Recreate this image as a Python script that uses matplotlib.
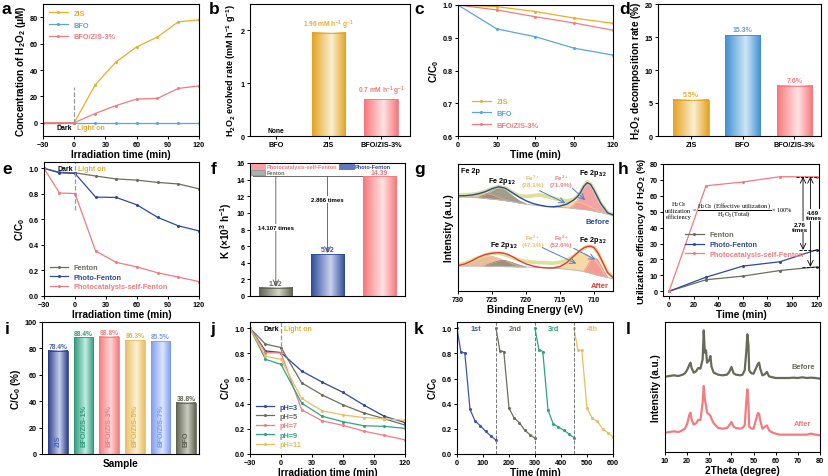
import numpy as np
import matplotlib
matplotlib.use("Agg")
import matplotlib.pyplot as plt
from matplotlib.colors import LinearSegmentedColormap
from matplotlib.patches import Patch

plt.rcParams['font.family'] = ['Liberation Sans', 'DejaVu Sans']
plt.rcParams['font.weight'] = 'bold'
plt.rcParams['axes.labelweight'] = 'bold'
plt.rcParams['mathtext.default'] = 'regular'

# ---------------- data ----------------
# (a) H2O2 production
a_time = [-30, -15, 0, 20, 40, 60, 80, 100, 120]
a_zis = [0, 0, 0, 28.5, 46, 57.5, 65, 76.5, 78]
a_bfo = [0, 0, 0, 0, 0, 0, 0, 0, 0]
a_comp = [0, 0, 0, 7, 13, 18, 18.5, 26, 28]
light_on = 0
# (b) H2O2 evolved rate
b_samples = ["BFO", "ZIS", "BFO/ZIS-3%"]
b_rates = [0.0, 1.96, 0.7]
b_labels = ["None", "1.96 mM h$^{-1}$ g$^{-1}$", "0.7 mM h$^{-1}$ g$^{-1}$"]
# (c) H2O2 decomposition
c_time = [0, 30, 60, 90, 120]
c_zis = [1.0, 0.995, 0.98, 0.96, 0.944]
c_bfo = [1.0, 0.927, 0.903, 0.868, 0.847]
c_comp = [1.0, 0.985, 0.964, 0.945, 0.923]
# (d)
d_samples = ["ZIS", "BFO", "BFO/ZIS-3%"]
d_rates = [5.5, 15.3, 7.6]
# (e)
e_time = [-30, -15, 0, 20, 40, 60, 80, 100, 120]
e_fenton = [1.0, 0.97, 0.965, 0.94, 0.917, 0.908, 0.89, 0.878, 0.84]
e_photo = [1.0, 0.965, 0.96, 0.775, 0.772, 0.714, 0.616, 0.55, 0.51]
e_psf = [1.0, 0.807, 0.803, 0.352, 0.263, 0.228, 0.182, 0.148, 0.113]
# (f)
f_systems = ["Fenton", "Photo-Fenton", "Photocatalysis-self-Fenton"]
f_k = [1.02, 5.02, 14.39]
f_ratio = ["14.107 times", "2.866 times"]
# (g) XPS Fe 2p (arbitrary intensity units)
g_x = [730, 729, 728, 727, 726, 725, 724, 723, 722, 721, 720, 719, 718, 717, 716, 715,
       714, 713, 712.5, 712, 711.5, 711, 710.5, 710, 709.5, 709, 708, 707]
g_env_before = [285, 285, 287, 291, 297, 306, 312, 307, 294, 281, 270, 262, 257, 253, 252, 254,
                260, 272, 281, 294, 313, 324, 319, 302, 282, 262, 234, 226]
g_raw_before = [287, 288, 289, 292, 298, 307, 313, 308, 295, 285, 283, 285, 288, 283, 278, 273,
                270, 274, 282, 295, 314, 327, 320, 303, 283, 262, 234, 227]
g_base_before = [281, 281, 280, 279, 277, 275, 273, 270, 267, 263, 260, 257, 255, 253, 251, 250,
                 249, 247, 246, 245, 244, 243, 241, 239, 237, 235, 230, 225]
g_env_after = [76, 81, 90, 101, 109, 113, 115, 112, 103, 91, 81, 75, 71, 69, 69, 73,
               85, 104, 113, 122, 129, 133, 134, 130, 117, 98, 55, 36]
g_raw_after = [78, 83, 91, 100, 108, 113, 113, 108, 100, 93, 89, 86, 85, 84, 83, 86,
               93, 104, 112, 120, 128, 133, 134, 130, 117, 98, 58, 38]
g_base_after = [75, 75, 75, 75, 74, 74, 74, 73, 73, 72, 72, 71, 70, 69, 68, 67,
                65, 63, 62, 60, 58, 56, 53, 50, 47, 45, 40, 36]
# fitted components: (x, top, base)
g_sat_b = ([730, 729, 728, 727, 726.5, 726, 725, 724, 723],
           [282, 284, 288, 293, 294, 293, 288, 280, 272],
           [281, 281, 280, 279, 278, 277, 275, 273, 270])
g_p12_b = ([727, 726, 725, 724.5, 724, 723.5, 723, 722, 721, 720],
           [280, 288, 301, 307, 310, 307, 301, 285, 270, 261],
           [279, 277, 275, 274, 273, 272, 270, 267, 263, 260])
g_fe3_b = ([716, 715, 714, 713, 712, 711, 710, 709],
           [252, 258, 265, 268, 265, 256, 246, 236],
           [251, 250, 249, 247, 245, 243, 239, 235])
g_fe2_b = ([713.5, 713, 712.5, 712, 711.5, 711, 710.5, 710, 709.5, 709, 708.5, 708],
           [249, 256, 270, 292, 312, 322, 317, 300, 280, 260, 243, 232],
           [248, 247, 246, 245, 244, 243, 241, 239, 237, 235, 233, 230])
g_sat_a = ([730, 729, 728, 727, 726, 725.5, 725, 724, 723, 722, 721],
           [76, 80, 88, 97, 104, 105, 104, 98, 90, 81, 74],
           [75, 75, 75, 75, 74, 74, 74, 74, 73, 73, 72])
g_p12_a = ([726, 725, 724, 723.5, 723, 722, 721, 720],
           [76, 84, 90, 92, 91, 85, 78, 72],
           [74, 74, 74, 73, 73, 73, 72, 72])
g_fe3_a = ([716.5, 716, 715, 714, 713, 712, 711, 710, 709, 708.5],
           [69, 70, 78, 90, 104, 112, 110, 95, 70, 48],
           [68, 68, 67, 65, 63, 60, 56, 50, 45, 43])
g_fe2_a = ([711.5, 711, 710.5, 710, 709.5, 709, 708.5, 708],
           [58, 74, 92, 100, 95, 78, 58, 42],
           [58, 56, 53, 50, 47, 45, 43, 40])
g_pct_before = ["(28.1%)", "(71.9%)"]
g_pct_after = ["(47.1%)", "(52.6%)"]
# (h)
h_time = [0, 30, 60, 90, 120]
h_fenton = [0, 7.2, 9.5, 13.0, 15.3]
h_photo = [0, 8.8, 15.8, 18.5, 26.0]
h_psf = [0, 66.3, 68.7, 72.0, 72.0]
h_ratio = ["2.76\ntimes", "4.69\ntimes"]
# (i)
i_samples = ["ZIS", "BFO/ZIS-1%", "BFO/ZIS-3%", "BFO/ZIS-5%", "BFO/ZIS-7%", "BFO"]
i_values = [78.4, 88.4, 88.8, 86.3, 85.5, 38.8]
# (j)
j_time = [-30, -15, 0, 20, 40, 60, 80, 100, 120]
j_ph3 = [1.0, 0.82, 0.807, 0.66, 0.571, 0.49, 0.39, 0.30, 0.25]
j_ph5 = [1.0, 0.874, 0.847, 0.566, 0.469, 0.391, 0.327, 0.281, 0.23]
j_ph7 = [1.0, 0.807, 0.803, 0.352, 0.263, 0.228, 0.182, 0.148, 0.113]
j_ph9 = [1.0, 0.753, 0.713, 0.405, 0.30, 0.257, 0.225, 0.22, 0.204]
j_ph11 = [1.0, 0.777, 0.753, 0.442, 0.343, 0.311, 0.29, 0.28, 0.268]
# (k)
k_time = [0, 15, 30, 50, 70, 90, 110, 130, 150]
k_starts = [0, 150, 300, 450]
k_c1 = [1.0, 0.81, 0.805, 0.355, 0.26, 0.225, 0.18, 0.145, 0.11]
k_c2 = [1.0, 0.82, 0.815, 0.365, 0.285, 0.25, 0.19, 0.155, 0.125]
k_c3 = [1.0, 0.83, 0.815, 0.35, 0.24, 0.215, 0.19, 0.16, 0.13]
k_c4 = [1.0, 0.825, 0.825, 0.365, 0.285, 0.26, 0.2, 0.17, 0.135]
k_names = ["1st", "2nd", "3rd", "4th"]
# (l) XRD
l_2theta = [10, 12, 14, 16, 17, 18, 19, 20, 21, 21.5, 22, 23, 24, 25, 26, 27, 27.5, 28, 28.5, 29,
            30, 30.5, 31, 32, 34, 36, 38, 39, 40, 41, 42, 44, 45, 46, 46.7, 47.2, 47.7, 48, 49, 50,
            51, 52, 52.5, 53, 54, 55, 56, 57, 58, 60, 62, 64, 66, 68, 70, 72, 74, 76, 78, 80]
l_before = [226, 228, 230, 228, 230, 232, 236, 246, 262, 268, 252, 238, 242, 252, 250, 278, 365, 298, 305, 268,
            276, 288, 256, 238, 232, 230, 232, 240, 255, 236, 232, 230, 232, 245, 300, 353, 320, 245, 236, 235,
            250, 265, 268, 250, 230, 233, 240, 227, 225, 222, 222, 222, 222, 223, 222, 224, 222, 223, 222, 220]
l_after = [58, 60, 62, 60, 62, 66, 70, 84, 112, 118, 98, 82, 86, 96, 96, 148, 198, 158, 140, 118,
           112, 108, 100, 86, 72, 70, 72, 80, 90, 76, 72, 70, 72, 80, 150, 188, 140, 76, 70, 70,
           95, 117, 115, 95, 70, 75, 80, 65, 60, 55, 52, 52, 52, 52, 52, 52, 52, 55, 52, 50]

# ---------------- colours ----------------
C_ZIS = '#EAAE2A'
C_BFO = '#5BA4DB'
C_PINK = '#F47B7E'
C_GRAY = '#6B6E5E'
C_NAVY = '#2E4B9B'
C_TEAL = '#2CA585'
C_YEL = '#EDBE5E'
C_LBLUE = '#7E9CF0'

W, H = 829, 477
fig = plt.figure(figsize=(W / 100, H / 100), dpi=100)


def add_ax(l, t, r, b):
    return fig.add_axes([l / W, 1 - b / H, (r - l) / W, (b - t) / H])


TICK = 5.2
LAB = 7.2


def style(ax):
    for s in ax.spines.values():
        s.set_linewidth(0.8)
    ax.tick_params(direction='out', length=2.2, width=0.7, labelsize=TICK, pad=1.5)


def letter(x, y, s):
    fig.text(x / W, 1 - y / H, s, fontsize=12.5, fontweight='bold', va='baseline', ha='left')


grad = np.linspace(0, 1, 256).reshape(1, -1)


def gbar(ax, x, h, w, dark, light):
    cmap = LinearSegmentedColormap.from_list('g', [(0, dark), (0.58, light), (1, dark)])
    ax.imshow(grad, extent=(x - w / 2, x + w / 2, 0, h), aspect='auto', cmap=cmap,
              zorder=2, interpolation='bilinear')
    ax.bar(x, h, w, fill=False, edgecolor=dark, linewidth=0.6, zorder=3)


def color_legend(leg, colors):
    for t, c in zip(leg.get_texts(), colors):
        t.set_color(c)


def lines_panel(ax, x, series, colors, labels, lw=0.9):
    for y, c, lab in zip(series, colors, labels):
        ax.plot(x, y, color=c, lw=lw, marker='o', ms=1.2, label=lab)


# ---------------- (a) ----------------
ax = add_ax(43, 5, 199, 137); style(ax)
lines_panel(ax, a_time, [a_zis, a_bfo, a_comp], [C_ZIS, C_BFO, C_PINK], ['ZIS', 'BFO', 'BFO/ZIS-3%'])
ax.vlines(light_on, 0, 27, colors='#999999', linestyles='--', lw=0.9)
ax.text(light_on - 2, -3.5, 'Dark', fontsize=5, ha='right', va='center')
ax.text(light_on + 3, -3.5, 'Light on', fontsize=5, ha='left', va='center', color=C_ZIS)
ax.set_xlim(-30, 120); ax.set_ylim(-10, 90)
ax.set_xticks([-30, 0, 30, 60, 90, 120]); ax.set_yticks([0, 20, 40, 60, 80])
ax.set_xlabel('Irradiation time (min)', fontsize=LAB, labelpad=0.5)
ax.set_ylabel('Concentration of H$_2$O$_2$ (μM)', fontsize=LAB, labelpad=1)
leg = ax.legend(loc='upper left', frameon=False, fontsize=5.3, handlelength=2.6,
                borderaxespad=0.4, labelspacing=0.6)
color_legend(leg, [C_ZIS, C_BFO, C_PINK])
letter(2, 14, 'a')

# ---------------- (b) ----------------
ax = add_ax(250, 5, 410, 137); style(ax)
b_cols = [('#333333', '#333333', 'k'), ('#E4A21F', '#FBEFD2', C_ZIS), ('#F8767A', '#FFE3E3', C_PINK)]
for i, v in enumerate(b_rates):
    dk, lt, tc = b_cols[i]
    if v > 0:
        gbar(ax, i, v, 0.64, dk, lt)
    ax.text(i, v + 0.03, b_labels[i], fontsize=4.8, ha='center', va='bottom', color=tc)
ax.set_xticks(range(3), b_samples)
ax.set_xlim(-0.5, 2.55); ax.set_ylim(0, 2.5); ax.set_yticks([0, 1, 2])
ax.set_ylabel('H$_2$O$_2$ evolved rate (mM h$^{-1}$ g$^{-1}$)', fontsize=6.5, labelpad=2)
letter(209, 14, 'b')

# ---------------- (c) ----------------
ax = add_ax(458, 6, 613, 137); style(ax)
lines_panel(ax, c_time, [c_zis, c_bfo, c_comp], [C_ZIS, C_BFO, C_PINK], ['ZIS', 'BFO', 'BFO/ZIS-3%'])
ax.set_xlim(0, 120); ax.set_ylim(0.6, 1.0)
ax.set_xticks([0, 30, 60, 90, 120]); ax.set_yticks([0.6, 0.7, 0.8, 0.9, 1.0])
ax.yaxis.set_major_formatter(matplotlib.ticker.FormatStrFormatter('%.1f'))
ax.set_xlabel('Time (min)', fontsize=LAB, labelpad=0.5)
ax.set_ylabel('C/C$_0$', fontsize=LAB, labelpad=1)
leg = ax.legend(loc='lower left', frameon=False, fontsize=5.3, handlelength=2.6,
                borderaxespad=0.6, labelspacing=0.6, bbox_to_anchor=(0.04, 0.0))
color_legend(leg, [C_ZIS, C_BFO, C_PINK])
letter(414, 14, 'c')

# ---------------- (d) ----------------
ax = add_ax(658, 5, 821, 137); style(ax)
d_cols = [('#E4A21F', '#FBEFD2', C_ZIS), ('#3D8FD2', '#CFE6F7', C_BFO), ('#F8767A', '#FFE3E3', C_PINK)]
for i, v in enumerate(d_rates):
    dk, lt, tc = d_cols[i]
    gbar(ax, i, v, 0.68, dk, lt)
    ax.text(i, v + 0.25, f'{v}%', fontsize=5, ha='center', va='bottom', color=tc)
ax.set_xticks(range(3), d_samples)
ax.set_xlim(-0.64, 2.52); ax.set_ylim(0, 20); ax.set_yticks([0, 5, 10, 15, 20])
ax.set_ylabel('H$_2$O$_2$ decomposition rate (%)', fontsize=LAB, labelpad=1)
letter(619, 14, 'd')

# ---------------- (e) ----------------
ax = add_ax(44, 163, 199, 297); style(ax)
lines_panel(ax, e_time, [e_fenton, e_photo, e_psf], [C_GRAY, C_NAVY, C_PINK], f_systems)
ax.vlines(light_on, 0.67, 1.05, colors='#999999', linestyles='--', lw=0.9)
ax.text(light_on - 2, 1.0, 'Dark', fontsize=5, ha='right', va='center')
ax.text(light_on + 3, 1.0, 'Light on', fontsize=5, ha='left', va='center', color=C_ZIS)
ax.set_xlim(-30, 120); ax.set_ylim(0, 1.05)
ax.set_xticks([-30, 0, 30, 60, 90, 120]); ax.set_yticks([0, 0.2, 0.4, 0.6, 0.8, 1.0])
ax.yaxis.set_major_formatter(matplotlib.ticker.FormatStrFormatter('%.1f'))
ax.set_xlabel('Irradiation time (min)', fontsize=LAB, labelpad=0.5)
ax.set_ylabel('C/C$_0$', fontsize=LAB, labelpad=1)
leg = ax.legend(loc='lower left', frameon=False, fontsize=5.3, handlelength=2.4,
                borderaxespad=0.4, labelspacing=0.3)
color_legend(leg, [C_GRAY, C_NAVY, C_PINK])
letter(2, 174, 'e')

# ---------------- (f) ----------------
ax = add_ax(250, 164, 405, 297); style(ax)
f_cols = [('#5E6152', '#D4D6C8', C_GRAY), ('#2E4B9B', '#C9D2EE', '#3A5AB0'), ('#F8767A', '#FFE3E3', C_PINK)]
fw = 0.64
for i, v in enumerate(f_k):
    dk, lt, tc = f_cols[i]
    gbar(ax, i, v, fw, dk, lt)
    ax.text(i, v + 0.1, f'{v:.2f}', fontsize=5, ha='center', va='bottom', color=tc)
ax.plot([-0.45, 2 - fw / 2], [f_k[2], f_k[2]], color='#555555', lw=0.6, zorder=1)
for i, lab in zip([0, 1], f_ratio):
    ax.annotate('', xy=(i, f_k[i] + 0.15), xytext=(i, f_k[2]),
                arrowprops=dict(arrowstyle='->', lw=0.6, color='#555555', shrinkA=0, shrinkB=0))
    ax.text(i, (f_k[i] + f_k[2]) / 2 + (0.5 if i == 0 else 1.9), lab, fontsize=4.3, ha='center',
            va='center', bbox=dict(facecolor='white', edgecolor='none', pad=0.6))
ax.set_xticks([])
ax.set_xlim(-0.5, 2.5); ax.set_ylim(0, 16); ax.set_yticks(range(0, 17, 2))
ax.set_ylabel('K (×10$^3$ h$^{-1}$)', fontsize=LAB, labelpad=2)
handles = [Patch(facecolor='#FBA0A3', edgecolor=C_PINK, lw=0.4),
           Patch(facecolor='#A9B2B0', edgecolor=C_GRAY, lw=0.4),
           Patch(facecolor='#5F78C0', edgecolor=C_NAVY, lw=0.4)]
leg = ax.legend(handles, [f_systems[2], f_systems[0], f_systems[1]], loc='upper left', ncol=2,
                frameon=False, fontsize=4.0, handlelength=2.6, handleheight=1.0, borderaxespad=0.1,
                labelspacing=0.1, columnspacing=0.4, handletextpad=0.2, borderpad=0.05)
color_legend(leg, [C_PINK, C_GRAY, C_NAVY])
letter(211, 174, 'f')

# ---------------- (g) ----------------
ax = add_ax(458, 165, 613, 292); style(ax)
C_TAN, C_P12, C_FE3, C_FE2 = '#E3AE82', '#8F8570', '#F7D08C', '#F28E90'
for comp, col in [(g_sat_b, C_TAN), (g_p12_b, C_P12), (g_fe3_b, C_FE3), (g_fe2_b, C_FE2),
                  (g_sat_a, C_TAN), (g_p12_a, C_P12), (g_fe3_a, C_FE3), (g_fe2_a, C_FE2)]:
    ax.fill_between(comp[0], comp[2], comp[1], color=col, alpha=0.8, lw=0)
    ax.plot(comp[0], comp[1], color=col, lw=0.5)
ax.plot(g_x, g_base_before, color='#BDBDBD', lw=0.7)
ax.plot(g_x, g_base_after, color='#BDBDBD', lw=0.7)
ax.plot(g_x, g_raw_before, color='#DADB86', lw=2.6, alpha=0.85)
ax.plot(g_x, g_raw_after, color='#DADB86', lw=2.6, alpha=0.85)
ax.plot(g_x, g_env_before, color='#2B4C9B', lw=1.0)
ax.plot(g_x, g_env_after, color='#E03C3C', lw=1.0)
ax.text(729.6, 360, 'Fe 2p', fontsize=5.2, ha='left', va='center')
ax.text(723.6, 330, 'Fe 2p$_{1/2}$', fontsize=5.2, ha='center', va='center')
ax.text(710.2, 355, 'Fe 2p$_{3/2}$', fontsize=5.2, ha='center', va='center')
ax.text(719, 339, 'Fe$^{3+}$', fontsize=4.6, ha='center', va='center', color='#F0C060')
ax.text(719, 318, g_pct_before[0], fontsize=4.6, ha='center', va='center', color='#F0C060')
ax.text(714.8, 339, 'Fe$^{2+}$', fontsize=4.6, ha='center', va='center', color='#F08080')
ax.text(714.8, 318, g_pct_before[1], fontsize=4.6, ha='center', va='center', color='#F08080')
ax.text(709.4, 207, 'Before', fontsize=5.5, ha='center', va='center', color='#2B4C9B')
ax.text(723.2, 140, 'Fe 2p$_{1/2}$', fontsize=5.2, ha='center', va='center')
ax.text(710.2, 155, 'Fe 2p$_{3/2}$', fontsize=5.2, ha='center', va='center')
ax.text(719, 160, 'Fe$^{3+}$', fontsize=4.6, ha='center', va='center', color='#F0C060')
ax.text(719, 140, g_pct_after[0], fontsize=4.6, ha='center', va='center', color='#F0C060')
ax.text(714.8, 160, 'Fe$^{2+}$', fontsize=4.6, ha='center', va='center', color='#F08080')
ax.text(714.8, 140, g_pct_after[1], fontsize=4.6, ha='center', va='center', color='#F08080')
ax.text(709.2, 15, 'After', fontsize=5.5, ha='center', va='center', color='#E03C3C')
ap = dict(arrowstyle='->', lw=0.7, color='#4A7FD0', shrinkA=0, shrinkB=0)
ax.annotate('', xy=(714.2, 263), xytext=(718, 300), arrowprops=ap)
ax.annotate('', xy=(711.3, 272), xytext=(713.2, 308), arrowprops=ap)
ax.annotate('', xy=(712.6, 82), xytext=(717.6, 130), arrowprops=ap)
ax.annotate('', xy=(709.8, 94), xytext=(713.0, 128), arrowprops=ap)
ax.set_xlim(730, 707.2); ax.set_ylim(0, 380)
ax.set_xticks([730, 725, 720, 715, 710]); ax.set_yticks([])
ax.set_xlabel('Binding Energy (eV)', fontsize=LAB, labelpad=0.5)
ax.set_ylabel('Intensity (a.u.)', fontsize=LAB, labelpad=3)
letter(414, 174, 'g')

# ---------------- (h) ----------------
ax = add_ax(663, 165, 819, 297); style(ax)
lines_panel(ax, h_time, [h_fenton, h_photo, h_psf], [C_GRAY, C_NAVY, C_PINK], f_systems)
for v, x0 in [(h_psf[-1], 103), (h_photo[-1], 106), (h_fenton[-1], 108)]:
    ax.hlines(v, x0, 122, colors='k', linestyles='--', lw=0.6)
ax.annotate('', xy=(109, h_photo[-1]), xytext=(109, h_psf[-1]),
            arrowprops=dict(arrowstyle='<->', lw=0.6, color='k', shrinkA=0, shrinkB=0))
ax.annotate('', xy=(115, h_fenton[-1]), xytext=(115, h_psf[-1]),
            arrowprops=dict(arrowstyle='<->', lw=0.6, color='k', shrinkA=0, shrinkB=0))
ax.text(106.5, 40.5, h_ratio[0], fontsize=4.4, ha='center', va='center', linespacing=1.1,
        bbox=dict(facecolor='white', edgecolor='none', pad=0.3))
ax.text(117.5, 48, h_ratio[1], fontsize=4.4, ha='center', va='center', linespacing=1.1,
        bbox=dict(facecolor='white', edgecolor='none', pad=0.3))
fk = dict(family=['Liberation Serif', 'DejaVu Serif'], fontweight='normal', fontsize=4.6)
ax.text(7.5, 51.5, 'H$_2$O$_2$\nutilization\nefficiency', ha='center', va='center', linespacing=1.0, **fk)
ax.text(17.5, 51.5, r'$=\dfrac{H_2O_2\ (Effective\ utilization)}{H_2O_2(Total)}\times 100\%$',
        ha='left', va='center', **fk)
ax.set_xlim(-5, 122); ax.set_ylim(-3, 80)
ax.set_xticks(range(0, 121, 20)); ax.set_yticks(range(0, 81, 10))
ax.set_xlabel('Time (min)', fontsize=LAB, labelpad=0.5)
ax.set_ylabel('Utilization efficiency of H$_2$O$_2$ (%)', fontsize=6.8, labelpad=1)
leg = ax.legend(loc='center left', frameon=False, fontsize=5.3, handlelength=2.6,
                borderaxespad=0.0, labelspacing=0.35, bbox_to_anchor=(0.12, 0.39))
color_legend(leg, [C_GRAY, C_NAVY, C_PINK])
letter(618, 174, 'h')

# ---------------- (i) ----------------
ax = add_ax(42, 323, 199, 455); style(ax)
i_cols = [('#2D3F8E', '#C8D0EC', '#4A63C0'), ('#2F9A7C', '#C2EDDF', '#2F9A7C'),
          ('#F47B7E', '#FFD6D6', '#F47B7E'), ('#E9BE63', '#FCF1D6', '#E2B352'),
          ('#7C9BF2', '#DDE6FF', '#7C9BF2'), ('#5F6252', '#CBCDC0', '#5F6252')]
for i, v in enumerate(i_values):
    dk, lt, tc = i_cols[i]
    gbar(ax, i, v, 0.76, dk, lt)
    ax.text(i, v + 0.6, f'{v}%', fontsize=4.8, ha='center', va='bottom', color=tc)
    ax.text(i, 6, i_samples[i], fontsize=5.3, ha='center', va='bottom', rotation=90, color=tc)
ax.set_xticks([])
ax.set_xlim(-0.62, 5.5); ax.set_ylim(0, 100); ax.set_yticks(range(0, 101, 20))
ax.set_xlabel('Sample', fontsize=LAB, labelpad=3)
ax.set_ylabel('C/C$_0$ (%)', fontsize=LAB, labelpad=1)
letter(5, 334, 'i')

# ---------------- (j) ----------------
ax = add_ax(250, 323, 405, 455); style(ax)
lines_panel(ax, j_time, [j_ph3, j_ph5, j_ph7, j_ph9, j_ph11],
            [C_NAVY, C_GRAY, C_PINK, C_TEAL, C_YEL], ['pH=3', 'pH=5', 'pH=7', 'pH=9', 'pH=11'])
ax.vlines(light_on, 0.8, 1.05, colors='#999999', linestyles='--', lw=0.9)
ax.text(light_on - 2, 1.0, 'Dark', fontsize=5, ha='right', va='center')
ax.text(light_on + 3, 1.0, 'Light on', fontsize=5, ha='left', va='center', color=C_ZIS)
ax.set_xlim(-30, 120); ax.set_ylim(0, 1.05)
ax.set_xticks([-30, 0, 30, 60, 90, 120]); ax.set_yticks([0, 0.2, 0.4, 0.6, 0.8, 1.0])
ax.yaxis.set_major_formatter(matplotlib.ticker.FormatStrFormatter('%.1f'))
ax.set_xlabel('Irradiation time (min)', fontsize=LAB, labelpad=0.5)
ax.set_ylabel('C/C$_0$', fontsize=LAB, labelpad=1)
leg = ax.legend(loc='lower left', frameon=False, fontsize=5.3, handlelength=2.4,
                borderaxespad=0.4, labelspacing=0.3)
color_legend(leg, [C_NAVY, C_GRAY, C_PINK, C_TEAL, C_YEL])
letter(210, 334, 'j')

# ---------------- (k) ----------------
ax = add_ax(457, 323, 613, 455); style(ax)
k_cols = ['#3B57A8', C_GRAY, C_TEAL, C_YEL]
for s, yv, col, nm in zip(k_starts, [k_c1, k_c2, k_c3, k_c4], k_cols, k_names):
    ax.plot([s + t for t in k_time], yv, color=col, lw=0.9, marker='o', ms=1.2)
    ax.text(s + 72, 0.995, nm, fontsize=5.2, ha='center', va='center', color=col)
for s in k_starts[1:]:
    ax.axvline(s, color='#777777', ls='--', lw=0.7)
ax.set_xlim(0, 600); ax.set_ylim(0, 1.05)
ax.set_xticks(range(0, 601, 100)); ax.set_yticks([0, 0.2, 0.4, 0.6, 0.8, 1.0])
ax.yaxis.set_major_formatter(matplotlib.ticker.FormatStrFormatter('%.1f'))
ax.set_xlabel('Time (min)', fontsize=LAB, labelpad=0.5)
ax.set_ylabel('C/C$_0$', fontsize=LAB, labelpad=1)
letter(414, 334, 'k')

# ---------------- (l) ----------------
ax = add_ax(665, 323, 820, 453); style(ax)
ax.plot(l_2theta, l_before, color='#666B58', lw=1.6)
ax.plot(l_2theta, l_after, color='#F47B7E', lw=1.6)
ax.text(72.5, 257, 'Before', fontsize=5.3, ha='center', va='center', color='#666B58')
ax.text(72, 85, 'After', fontsize=5.3, ha='center', va='center', color='#F47B7E')
ax.set_xlim(10, 80); ax.set_ylim(0, 390)
ax.set_xticks(range(10, 81, 10)); ax.set_yticks([])
ax.set_xlabel('2Theta (degree)', fontsize=LAB, labelpad=0.5)
ax.set_ylabel('Intensity (a.u.)', fontsize=LAB, labelpad=3)
letter(626, 334, 'l')

fig.savefig('out.png', dpi=100)
